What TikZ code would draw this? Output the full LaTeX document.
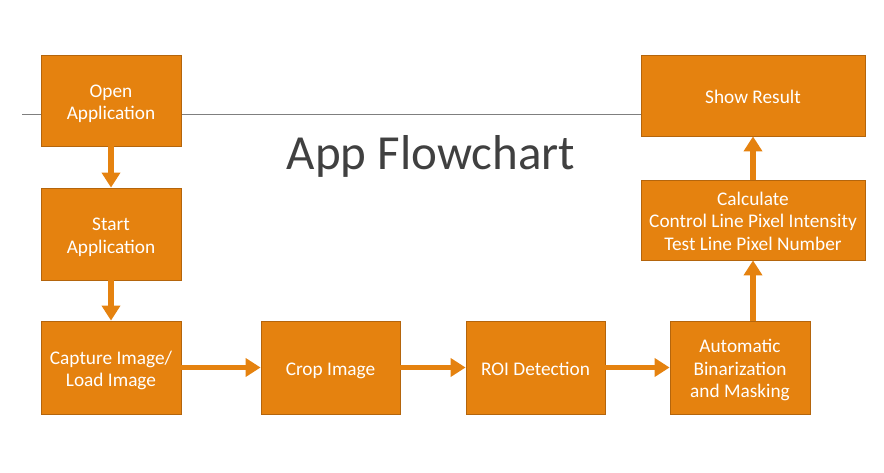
\documentclass[tikz,border=0pt]{standalone}
\usepackage{fontspec}
\setmainfont{Carlito}
\usetikzlibrary{arrows.meta}
\definecolor{boxorange}{HTML}{E5820F}
\definecolor{boxedge}{HTML}{B4650C}
\definecolor{titlegray}{HTML}{404040}
\definecolor{rulegray}{HTML}{7F7F7F}
\newcommand{\boxtext}[1]{\raisebox{-8.5pt}[0pt][0pt]{\begin{tabular}{@{}c@{}}#1\end{tabular}}}
\begin{document}
\begin{tikzpicture}[x=1pt,y=-1pt,
  stepbox/.style={draw=boxedge,line width=0.8pt,fill=boxorange,text=white,
    font=\fontsize{19.3}{22.5}\selectfont,inner sep=0pt},
  flow/.style={draw=boxorange,line width=5.5pt,-{Triangle[width=18pt,length=15pt]}}]
\useasboundingbox (0,0) rectangle (884,473);
\coordinate (ls) at (22,115);
\coordinate (le) at (641,115);
\draw[rulegray,line width=1pt] (ls) -- (le);
\node[font=\fontsize{49}{55}\selectfont,text=titlegray] (title) at (431,156) {App Flowchart};
\node[stepbox,minimum width=140pt,minimum height=91pt] (open) at (111,100.5) {\boxtext{Open\\Application}};
\node[stepbox,minimum width=140pt,minimum height=92pt] (start) at (111,234) {\boxtext{Start\\Application}};
\node[stepbox,minimum width=140pt,minimum height=93pt] (capture) at (111,367.5) {\boxtext{Capture Image/\\Load Image}};
\node[stepbox,minimum width=139pt,minimum height=93pt] (crop) at (330.5,367.5) {\boxtext{Crop Image}};
\node[stepbox,minimum width=139pt,minimum height=93pt] (roi) at (535.5,367.5) {\boxtext{ROI Detection}};
\node[stepbox,minimum width=140pt,minimum height=93pt] (bin) at (740,367.5) {\boxtext{Automatic\\Binarization\\and Masking}};
\node[stepbox,minimum width=224pt,minimum height=80pt] (calc) at (753,220) {\boxtext{Calculate\\Control Line Pixel Intensity\\Test Line Pixel Number}};
\node[stepbox,minimum width=224pt,minimum height=81pt] (show) at (753,95.5) {\boxtext{Show Result}};
\draw[flow] (open) -- (start);
\draw[flow] (start) -- (capture);
\draw[flow] (capture) -- (crop);
\draw[flow] (crop) -- (roi);
\draw[flow] (roi) -- (bin);
\draw[flow] (bin.north -| calc) -- (calc);
\draw[flow] (calc) -- (show);
\end{tikzpicture}
\end{document}
